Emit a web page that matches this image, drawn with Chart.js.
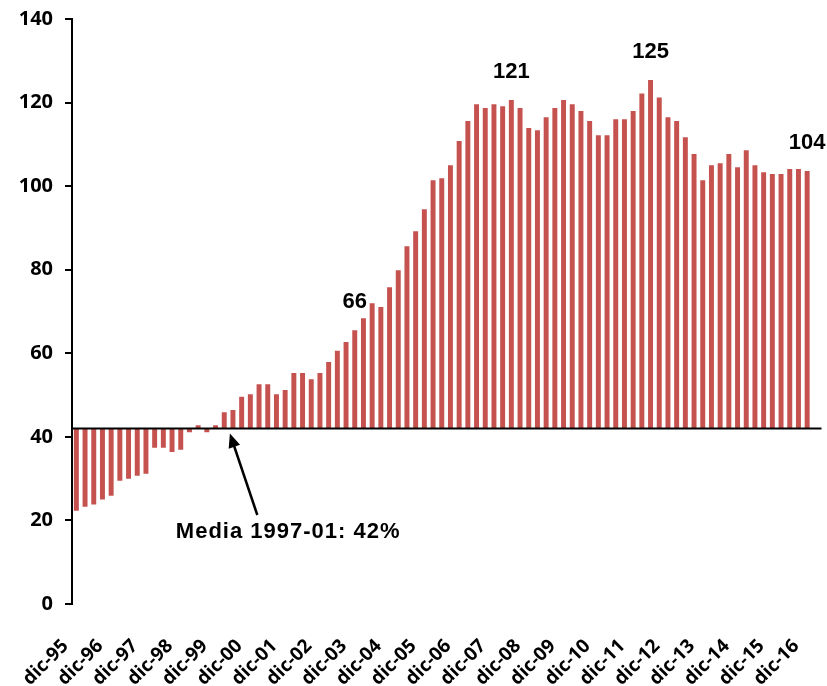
<!DOCTYPE html>
<html>
<head>
<meta charset="utf-8">
<script src="https://cdn.jsdelivr.net/npm/chart.js@4"></script>
<style>
  html, body { margin: 0; padding: 0; background: #fff; }
</style>
</head>
<body>
<canvas id="chart" width="827" height="686"></canvas>
<script>
// quarterly series, dic-95 .. dic-16
const firstLabel = 'dic-95';
const years = ['96', '97', '98', '99', '00', '01', '02', '03', '04', '05', '06',
  '07', '08', '09', '10', '11', '12', '13', '14', '15', '16'];
const quarters = ['mar', 'jun', 'sep', 'dic'];
const tickEvery = 4;

const values = [
  22.3, 23.3, 23.8, 25.0, 25.9, 29.5, 30.0, 30.7, 31.2, 37.4,
  37.4, 36.4, 36.9, 41.1, 42.8, 41.1, 42.8, 45.9, 46.4, 49.6,
  50.2, 52.6, 52.6, 50.2, 51.2, 55.3, 55.3, 53.8, 55.3, 57.9,
  60.6, 62.7, 65.5, 68.4, 72.0, 71.1, 75.8, 79.9, 85.6, 89.2,
  94.5, 101.4, 101.9, 105.0, 110.8, 115.6, 119.6, 118.7, 119.6, 119.1,
  120.6, 118.7, 113.9, 113.4, 116.5, 118.7, 120.6, 119.6, 118.0, 115.6,
  112.2, 112.2, 116.0, 116.0, 118.0, 122.2, 125.4, 121.2, 116.5, 115.6,
  111.7, 107.7, 101.4, 105.0, 105.5, 107.7, 104.5, 108.6, 105.0, 103.3,
  102.9, 102.9, 104.1, 104.1, 103.6
];

// average 1997-01, bars float from it
const mean = 42;
const meanText = 'Media 1997-01: 42%';

// highlighted values
const labelIndex = [32, 50, 66, 84];
const labelText = ['66', '121', '125', '104'];

const categories = [firstLabel];
years.forEach(y => quarters.forEach(q => categories.push(q + '-' + y)));

const overlay = {
  id: 'overlay',
  afterDatasetsDraw(chart) {
    const { ctx, chartArea, scales: { x, y } } = chart;
    ctx.save();

    // mean line
    const yMean = y.getPixelForValue(mean);
    ctx.strokeStyle = '#000';
    ctx.lineWidth = 2;
    ctx.beginPath();
    ctx.moveTo(chartArea.left, yMean);
    ctx.lineTo(chartArea.right + 10, yMean);
    ctx.stroke();

    // value labels
    ctx.fillStyle = '#000';
    ctx.font = 'bold 22px "Liberation Sans", Arial, sans-serif';
    ctx.textAlign = 'center';
    ctx.textBaseline = 'bottom';
    labelIndex.forEach((idx, k) => {
      ctx.fillText(labelText[k], x.getPixelForValue(idx), y.getPixelForValue(values[idx]) - 17);
    });

    // arrow to the mean line
    const x0 = x.getPixelForValue(20.8), y0 = y.getPixelForValue(21.3);
    const x1 = x.getPixelForValue(17.65), y1 = y.getPixelForValue(40.8);
    const ang = Math.atan2(y1 - y0, x1 - x0);
    ctx.lineWidth = 2.5;
    ctx.beginPath();
    ctx.moveTo(x0, y0);
    ctx.lineTo(x1 - 10 * Math.cos(ang), y1 - 10 * Math.sin(ang));
    ctx.stroke();
    ctx.beginPath();
    ctx.moveTo(x1, y1);
    ctx.lineTo(x1 - 14 * Math.cos(ang) + 6 * Math.sin(ang), y1 - 14 * Math.sin(ang) - 6 * Math.cos(ang));
    ctx.lineTo(x1 - 14 * Math.cos(ang) - 6 * Math.sin(ang), y1 - 14 * Math.sin(ang) + 6 * Math.cos(ang));
    ctx.closePath();
    ctx.fill();

    ctx.textBaseline = 'middle';
    ctx.letterSpacing = '1px';
    ctx.fillText(meanText, x.getPixelForValue(24.35), y.getPixelForValue(17.3));
    ctx.restore();
  }
};

new Chart(document.getElementById('chart'), {
  type: 'bar',
  data: {
    labels: categories,
    datasets: [{
      data: values.map(v => [mean, v]),
      backgroundColor: '#C65250',
      borderWidth: 0,
      barPercentage: 0.57,
      categoryPercentage: 1
    }]
  },
  options: {
    responsive: false,
    animation: false,
    devicePixelRatio: 1,
    layout: {
      padding: { top: 19, right: 15.5, bottom: 0, left: 0 }
    },
    plugins: {
      legend: { display: false },
      tooltip: { enabled: false }
    },
    scales: {
      x: {
        offset: true,
        grid: { display: false, drawTicks: false },
        border: { display: false },
        ticks: {
          autoSkip: false,
          maxRotation: 45,
          minRotation: 45,
          padding: 31,
          labelOffset: -11,
          color: '#000',
          font: { family: '"Open Sans", sans-serif', size: 19, weight: 'bold' },
          callback: function (v, i) {
            return i % tickEvery === 0 ? this.getLabelForValue(v) : '';
          }
        },
        afterFit: s => { s.height = 82; s.paddingLeft = 0; s.paddingRight = 0; }
      },
      y: {
        min: 0,
        max: 140,
        ticks: {
          stepSize: 20,
          padding: 12,
          color: '#000',
          font: { family: '"Open Sans", sans-serif', size: 20, weight: 'bold' }
        },
        grid: { drawOnChartArea: false, drawTicks: true, tickLength: 7, color: '#000', lineWidth: 2 },
        border: { display: true, color: '#000', width: 2 },
        afterFit: s => { s.width = 72; s.paddingTop = 0; s.paddingBottom = 0; }
      }
    }
  },
  plugins: [overlay]
});
</script>
</body>
</html>
